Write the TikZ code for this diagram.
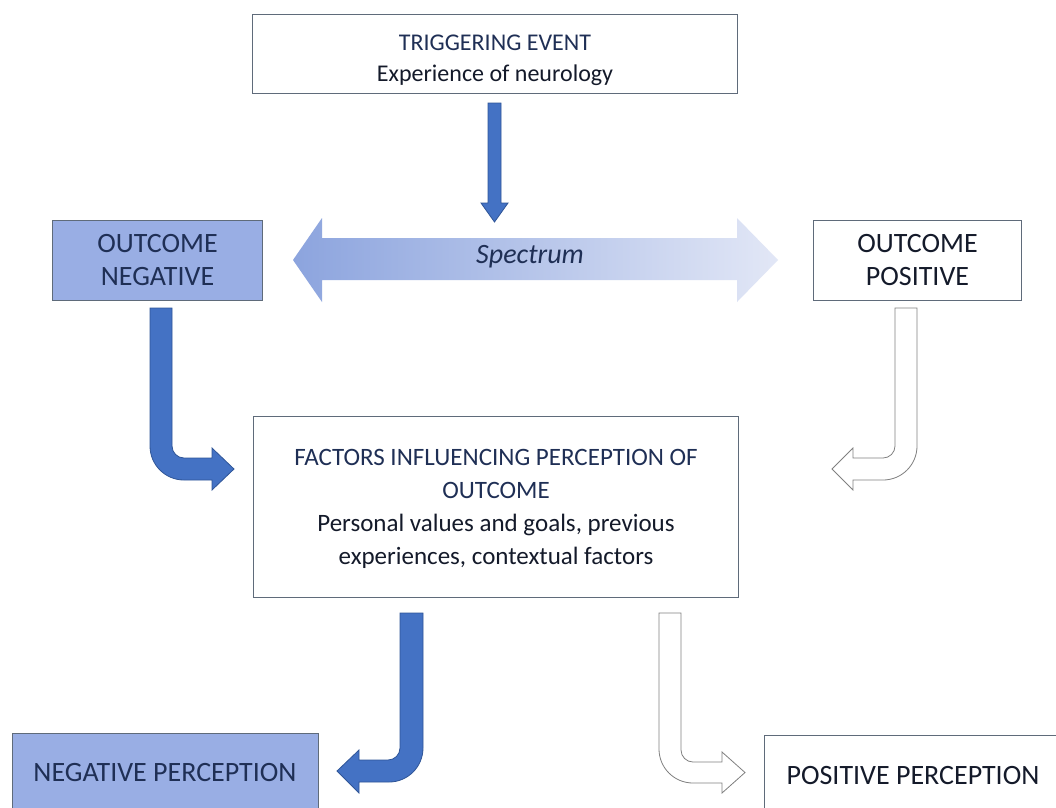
\documentclass[tikz,border=0pt]{standalone}
\usepackage{fontspec}
\setmainfont{Carlito}
\definecolor{navy}{HTML}{1F2F55}
\definecolor{boxedge}{HTML}{5F6B7A}
\definecolor{lightfill}{HTML}{99AEE4}
\definecolor{arrowblue}{HTML}{4472C4}
\definecolor{arrowedge}{HTML}{2F5597}
\definecolor{specL}{HTML}{8CA4DE}
\definecolor{specR}{HTML}{E2E7F6}
\definecolor{greyedge}{HTML}{808080}
\definecolor{darktext}{HTML}{141A2A}
\begin{document}
\begin{tikzpicture}[x=1pt,y=-1pt,
  box/.style={draw=boxedge, line width=1pt, inner sep=0pt, anchor=north west},
  darkarrow/.style={fill=arrowblue, draw=arrowedge, line width=0.8pt},
  whitearrow/.style={fill=white, draw=greyedge, line width=0.8pt},
  txt/.style={align=center, inner sep=0pt, text=darktext},
  big/.style={font=\fontsize{28}{33}\selectfont},
  mid/.style={font=\fontsize{25}{33}\selectfont}]
\clip (0,0) rectangle (1056,807);
\fill[white] (0,0) rectangle (1056,807);

% boxes
\node[box, minimum width=485, minimum height=79] (trig) at (252,14) {};
\node[box, fill=lightfill, minimum width=210, minimum height=80] (neg) at (52,220) {};
\node[box, minimum width=208, minimum height=80] (pos) at (813,220) {};
\node[box, minimum width=485, minimum height=181] (fac) at (253,416) {};
\node[box, fill=lightfill, minimum width=306, minimum height=110] (negp) at (12,733) {};
\node[box, minimum width=310, minimum height=110] (posp) at (764,735) {};

% texts
\node[txt, font=\fontsize{24}{31}\selectfont] (trigt) at ([yshift=-6pt]trig.center) {\textcolor{navy}{TRIGGERING EVENT}\\Experience of neurology};
\node[txt, big, text=navy] (negt) at (neg.center) {OUTCOME\\NEGATIVE};
\node[txt, big] (post) at (pos.center) {OUTCOME\\POSITIVE};
\node[txt, mid] (fact) at ([yshift=-2pt]fac.center) {\textcolor{navy}{FACTORS INFLUENCING PERCEPTION OF}\\\textcolor{navy}{OUTCOME}\\Personal values and goals, previous\\experiences, contextual factors};
\node[txt, big, text=navy] (negpt) at (165,772) {NEGATIVE PERCEPTION};
\node[txt, big] (pospt) at (913,775) {POSITIVE PERCEPTION};

% straight down arrow
\draw[darkarrow] (488,103) -- (501,103) -- (501,203) -- (508,203) -- (494.5,222) -- (481,203) -- (488,203) -- cycle;

% spectrum double arrow
\shade[left color=specL, right color=specR] (293,260) -- (322,218) -- (322,238) -- (737,238) -- (737,218) -- (778,260) -- (737,302) -- (737,280) -- (322,280) -- (322,302) -- cycle;
\node[txt, big, font=\fontsize{28}{33}\selectfont\itshape, text=navy] (spec) at (530,257) {Spectrum};

% bent arrows
\draw[darkarrow] (150,308) -- (172,308) -- (172,446) .. controls (172,452.6) and (177.4,458) .. (184,458) -- (212,458) -- (212,448) -- (234,469) -- (212,490) -- (212,480) -- (184,480) .. controls (165.2,480) and (150,464.8) .. (150,446) -- cycle;

\draw[whitearrow] (917,308) -- (895,308) -- (895,446) .. controls (895,452.6) and (889.6,458) .. (883,458) -- (853,458) -- (853,448) -- (832,469) -- (853,490) -- (853,480) -- (883,480) .. controls (901.8,480) and (917,464.8) .. (917,446) -- cycle;

\draw[darkarrow] (423,613) -- (400,613) -- (400,748) .. controls (400,754.6) and (394.6,760) .. (388,760) -- (359,760) -- (359,750) -- (337,771) -- (359,793) -- (359,782) -- (389,782) .. controls (407.8,782) and (423,766.8) .. (423,748) -- cycle;

\draw[whitearrow] (659,613) -- (681,613) -- (681,750) .. controls (681,756.6) and (686.4,762) .. (693,762) -- (722,762) -- (722,752) -- (745,772.5) -- (722,793) -- (722,783) -- (693,783) .. controls (674.2,783) and (659,767.8) .. (659,749) -- cycle;
\end{tikzpicture}
\end{document}
